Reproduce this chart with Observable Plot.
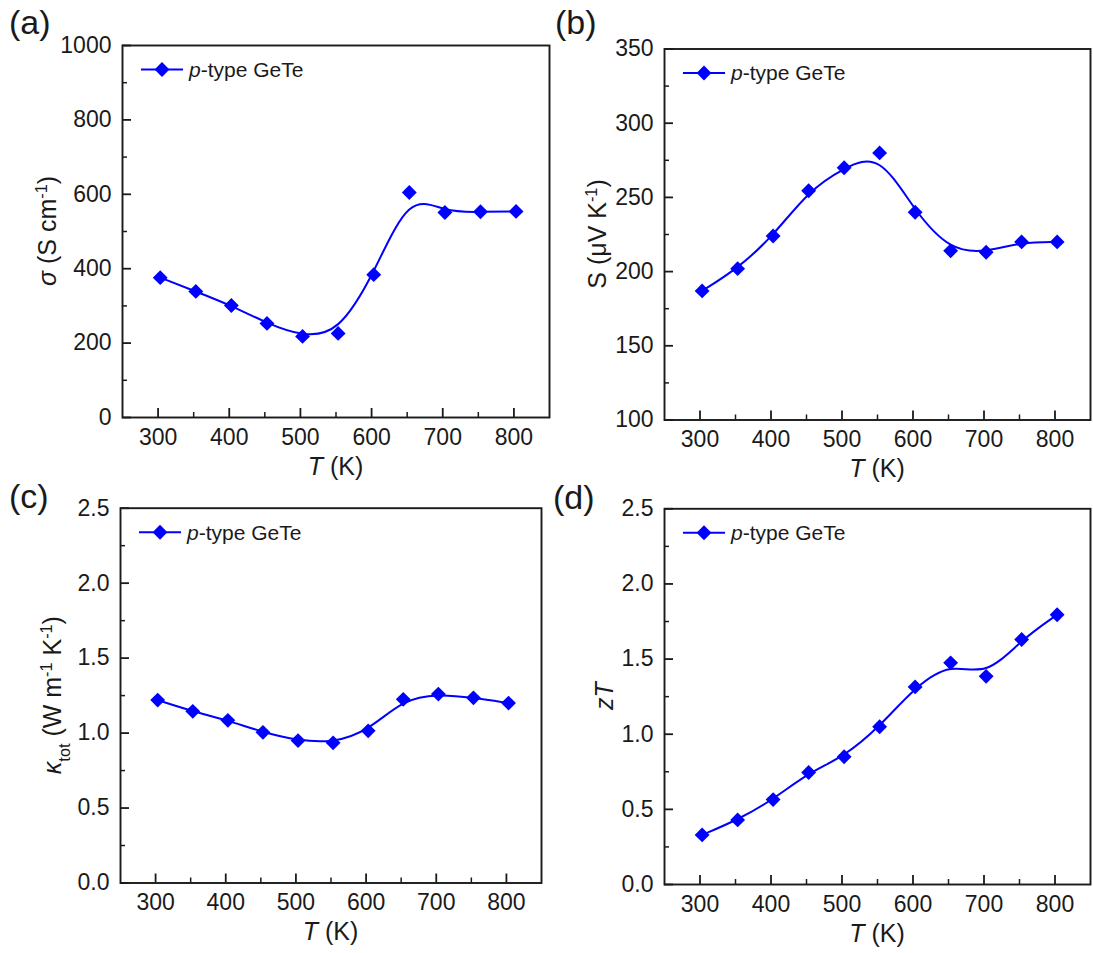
<!DOCTYPE html>
<html>
<head>
<meta charset="utf-8">
<script src="https://cdn.jsdelivr.net/npm/d3@7"></script>
<script src="https://cdn.jsdelivr.net/npm/@observablehq/plot@0.6"></script>
<style>
  html, body { margin: 0; padding: 0; background: #fff; }
  #figure { position: relative; width: 1093px; height: 953px; background: #fff; }
  #figure svg { position: absolute; }
</style>
</head>
<body>
<div id="figure"></div>
<script>
// Measurement temperatures (K)
const temperature = [303, 353, 403, 453, 503, 553, 603, 653, 703, 753, 803];

// Electrical conductivity σ (S cm-1)
const sigma = [376, 339, 301, 253, 218, 226, 384, 605, 551, 553, 554];
// Seebeck coefficient S (μV K-1)
const seebeck = [187, 202, 224, 254.5, 270, 280, 240, 214, 213, 220, 220];
// Total thermal conductivity κtot (W m-1 K-1)
const kappaTot = [1.22, 1.145, 1.085, 1.005, 0.95, 0.935, 1.015, 1.225, 1.26, 1.235, 1.2];
// Figure of merit zT
const zT = [0.33, 0.43, 0.565, 0.745, 0.85, 1.05, 1.315, 1.475, 1.385, 1.63, 1.795];

const seriesName = "GeTe";
const xMajor = [300, 400, 500, 600, 700, 800];
const xMinor = [350, 450, 550, 650, 750];

const BLUE = "#0000ff";
const INK = "#1a1a1a";
const FONT = "'Liberation Sans', Arial, Helvetica, sans-serif";
const MARKER_R = 6.7;

const figure = document.getElementById("figure");

function panel(cfg) {
  const {left, top, width, height, mL, mR, mT, mB, values, yDomain, yMajor, yMinor, yFormat,
         tag, tagX, tagY, yLabel, yLabelX} = cfg;
  const innerW = width - mL - mR;
  const innerH = height - mT - mB;
  const data = temperature.map((t, i) => ({T: t, v: values[i]}));

  const svg = Plot.plot({
    width, height,
    marginLeft: mL, marginRight: mR, marginTop: mT, marginBottom: mB,
    style: {fontFamily: FONT, fontSize: "23px", color: INK, background: "transparent", overflow: "visible"},
    x: {domain: [250, 850]},
    y: {domain: yDomain},
    marks: [
      // inward tick marks
      Plot.tickX(xMajor, {x: d => d, insetTop: innerH - 9, stroke: INK, strokeWidth: 1.8}),
      Plot.tickX(xMinor, {x: d => d, insetTop: innerH - 5, stroke: INK, strokeWidth: 1.5}),
      Plot.tickY(yMajor, {y: d => d, insetRight: innerW - 9, stroke: INK, strokeWidth: 1.8}),
      Plot.tickY(yMinor, {y: d => d, insetRight: innerW - 5, stroke: INK, strokeWidth: 1.5}),
      Plot.axisX(xMajor, {tickSize: 0, tickPadding: 11, label: null, fill: INK}),
      Plot.axisY(yMajor, {tickSize: 0, tickPadding: 11, label: null, tickFormat: yFormat, fill: INK}),
      Plot.frame({stroke: INK, strokeWidth: 1.9}),
      Plot.line(data, {x: "T", y: "v", curve: "basis", stroke: BLUE, strokeWidth: 2}),
      Plot.dot(data, {x: "T", y: "v", symbol: "diamond2", r: MARKER_R, fill: BLUE, stroke: null})
    ]
  });

  svg.style.left = left + "px";
  svg.style.top = top + "px";
  const g = d3.select(svg).append("g")
    .attr("font-family", FONT).attr("fill", INK).attr("text-anchor", "start");

  // panel tag
  g.append("text").attr("x", tagX).attr("y", tagY).attr("font-size", 34).text(tag);

  // x-axis title
  const xt = g.append("text")
    .attr("x", mL + innerW / 2).attr("y", mT + innerH + 49).attr("dy", "0.35em")
    .attr("text-anchor", "middle").attr("font-size", 25);
  xt.append("tspan").attr("font-style", "italic").text("T");
  xt.append("tspan").text(" (K)");

  // y-axis title
  const yt = g.append("text")
    .attr("transform", `translate(${yLabelX},${mT + innerH / 2}) rotate(-90)`)
    .attr("dy", "0.35em").attr("text-anchor", "middle").attr("font-size", 25);
  yLabel(yt);

  // legend
  const lx = mL, ly = mT + 24.5;
  g.append("line").attr("x1", lx + 19).attr("x2", lx + 61).attr("y1", ly).attr("y2", ly)
    .attr("stroke", BLUE).attr("stroke-width", 2);
  g.append("path").attr("transform", `translate(${lx + 40},${ly})`)
    .attr("d", d3.symbol(d3.symbolDiamond2, Math.PI * MARKER_R * MARKER_R)()).attr("fill", BLUE);
  const lt = g.append("text").attr("x", lx + 67).attr("y", ly).attr("dy", "0.35em")
    .attr("text-anchor", "start").attr("font-size", 21);
  lt.append("tspan").attr("font-style", "italic").text("p");
  lt.append("tspan").text("-type " + seriesName);

  figure.appendChild(svg);
}

const fmtInt = d3.format("d");
const fmt1 = d3.format(".1f");
const sup = (t, s) => t.append("tspan").attr("baseline-shift", "super").attr("font-size", "65%").text(s);

// (a) electrical conductivity
panel({
  left: 0, top: 0, width: 556, height: 482, mL: 122, mR: 7, mT: 45, mB: 65,
  values: sigma, yDomain: [0, 1000],
  yMajor: [0, 200, 400, 600, 800, 1000], yMinor: [100, 300, 500, 700, 900], yFormat: fmtInt,
  tag: "(a)", tagX: 9, tagY: 34, yLabelX: 47,
  yLabel: t => {
    t.append("tspan").attr("font-style", "italic").text("σ");
    t.append("tspan").text(" (S cm");
    sup(t, "-1");
    t.append("tspan").text(")");
  }
});

// (b) Seebeck coefficient
panel({
  left: 550, top: 0, width: 543, height: 482, mL: 114, mR: 3, mT: 48.5, mB: 62.5,
  values: seebeck, yDomain: [100, 350],
  yMajor: [100, 150, 200, 250, 300, 350], yMinor: [125, 175, 225, 275, 325], yFormat: fmtInt,
  tag: "(b)", tagX: 5, tagY: 34, yLabelX: 47,
  yLabel: t => {
    t.append("tspan").text("S (μV K");
    sup(t, "-1");
    t.append("tspan").text(")");
  }
});

// (c) total thermal conductivity
panel({
  left: 0, top: 482, width: 556, height: 471, mL: 120, mR: 15, mT: 25.7, mB: 70.5,
  values: kappaTot, yDomain: [0, 2.5],
  yMajor: [0, 0.5, 1, 1.5, 2, 2.5], yMinor: [0.25, 0.75, 1.25, 1.75, 2.25], yFormat: fmt1,
  tag: "(c)", tagX: 9, tagY: 26, yLabelX: 52,
  yLabel: t => {
    t.append("tspan").attr("font-style", "italic").text("κ");
    t.append("tspan").attr("baseline-shift", "sub").attr("font-size", "65%").text("tot");
    t.append("tspan").text(" (W m");
    sup(t, "-1");
    t.append("tspan").text(" K");
    sup(t, "-1");
    t.append("tspan").text(")");
  }
});

// (d) figure of merit
panel({
  left: 550, top: 482, width: 543, height: 471, mL: 114, mR: 3, mT: 26.3, mB: 69,
  values: zT, yDomain: [0, 2.5],
  yMajor: [0, 0.5, 1, 1.5, 2, 2.5], yMinor: [0.25, 0.75, 1.25, 1.75, 2.25], yFormat: fmt1,
  tag: "(d)", tagX: 3, tagY: 27, yLabelX: 54,
  yLabel: t => {
    t.append("tspan").attr("font-style", "italic").text("zT");
  }
});
</script>
</body>
</html>
